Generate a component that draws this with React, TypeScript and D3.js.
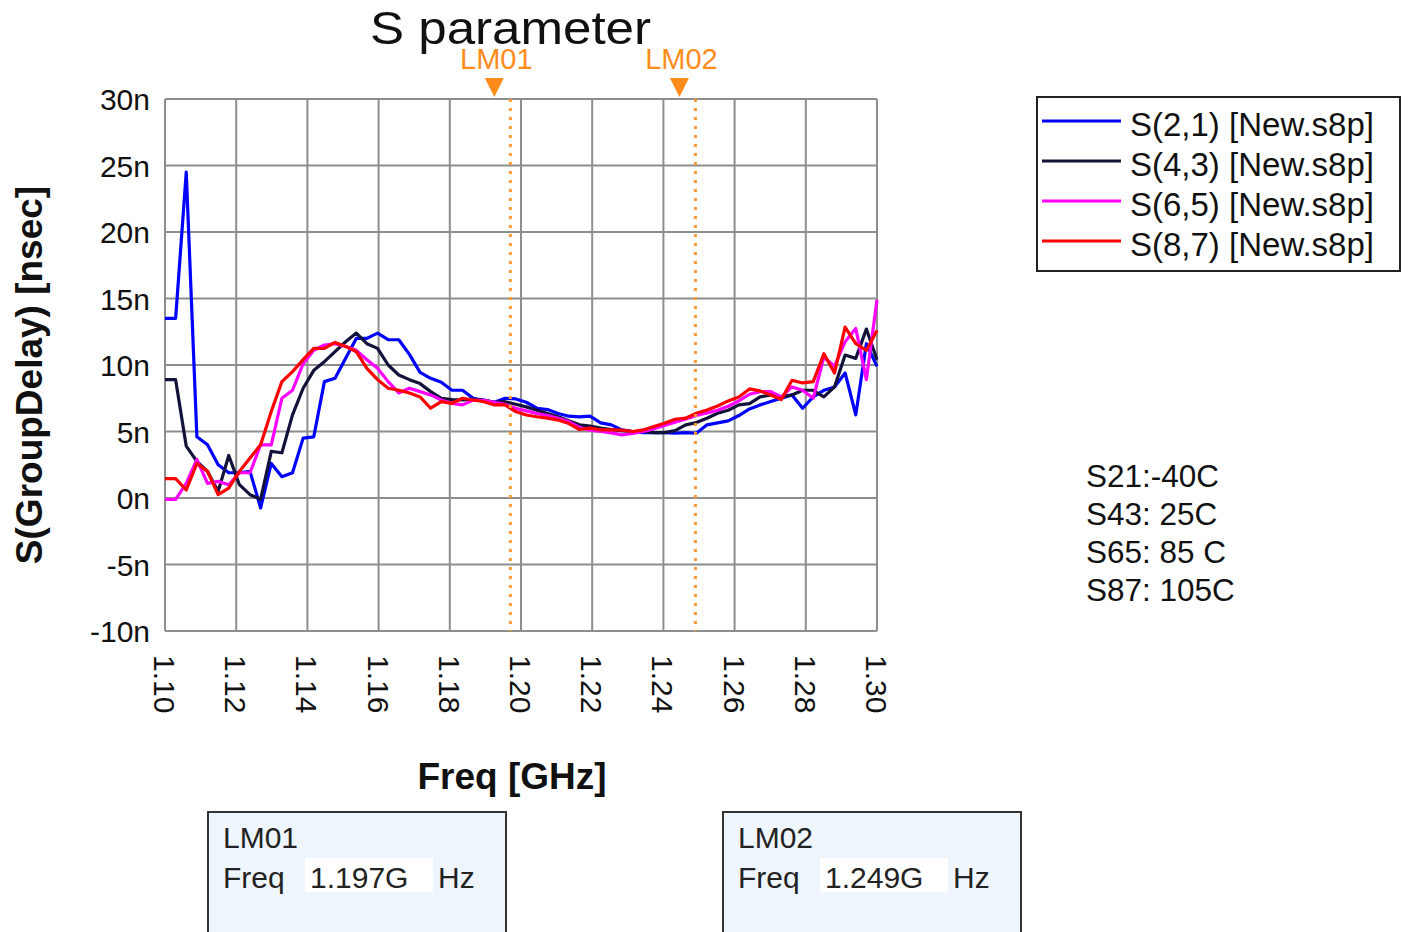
import React from 'react'
import * as d3 from 'd3'

// sweep settings of the measurement (GHz)
const sweepStart = 1.1
const sweepStop = 1.3
const sweepPoints = 68
const freqs = d3.range(sweepPoints).map(i => sweepStart + (i * (sweepStop - sweepStart)) / (sweepPoints - 1))

// group delay in nsec
const s21 = [
  13.5, 13.5, 24.5, 4.6, 4.0, 2.5, 1.9, 1.9, 2.0, -0.75, 2.6, 1.6, 1.9, 4.5, 4.6, 8.75, 9.0,
  10.5, 12.0, 12.0, 12.4, 11.9, 11.9, 10.8, 9.45, 9.0, 8.7, 8.1, 8.1, 7.5, 7.35, 7.2, 7.5,
  7.45, 7.2, 6.75, 6.65, 6.35, 6.15, 6.1, 6.15, 5.65, 5.5, 5.12, 5.0, 4.92, 4.92, 4.92, 4.87,
  4.92, 4.87, 5.5, 5.65, 5.8, 6.2, 6.7, 7.0, 7.25, 7.5, 7.75, 6.75, 7.6, 8.1, 8.35, 9.4, 6.25,
  11.6, 9.9,
]
const s43 = [
  8.9, 8.9, 3.9, 2.75, 2.0, 0.5, 3.2, 1.0, 0.25, -0.1, 3.5, 3.4, 6.25, 8.25, 9.6, 10.25, 11.0,
  11.75, 12.4, 11.6, 11.25, 10.0, 9.25, 8.9, 8.6, 8.0, 7.5, 7.4, 7.37, 7.44, 7.37, 7.2, 7.24,
  7.05, 6.85, 6.6, 6.35, 6.1, 5.8, 5.5, 5.4, 5.25, 5.15, 5.07, 5.0, 5.0, 4.92, 4.92, 5.07, 5.5,
  5.67, 6.0, 6.37, 6.6, 7.0, 7.1, 7.6, 7.75, 7.6, 7.75, 8.1, 8.1, 7.6, 8.35, 10.75, 10.5, 12.7,
  10.4,
]
const s65 = [
  -0.1, -0.1, 1.1, 2.9, 1.1, 1.25, 1.0, 1.9, 1.9, 4.0, 4.0, 7.5, 8.1, 10.1, 11.1, 11.5, 11.6,
  11.4, 11.1, 10.4, 9.75, 8.75, 7.9, 8.25, 8.0, 7.75, 7.37, 7.12, 7.0, 7.37, 7.35, 7.2, 7.05,
  6.75, 6.55, 6.35, 6.2, 6.0, 5.75, 5.3, 5.1, 5.0, 4.9, 4.75, 4.85, 5.0, 5.2, 5.45, 5.7, 5.95,
  6.2, 6.4, 6.6, 6.9, 7.3, 7.8, 8.0, 8.0, 7.6, 8.35, 8.1, 7.5, 10.6, 9.9, 11.75, 12.75, 8.9,
  14.9,
]
const s87 = [
  1.45, 1.45, 0.6, 2.6, 2.0, 0.25, 0.75, 2.0, 3.0, 4.0, 6.5, 8.75, 9.5, 10.4, 11.25, 11.25, 11.7,
  11.4, 11.0, 9.75, 8.9, 8.25, 8.1, 7.9, 7.6, 6.75, 7.25, 7.12, 7.5, 7.37, 7.24, 7.0, 7.0, 6.5,
  6.24, 6.11, 6.0, 5.86, 5.6, 5.15, 5.25, 5.12, 5.12, 5.1, 5.0, 5.12, 5.37, 5.62, 5.92, 6.0,
  6.37, 6.62, 6.92, 7.3, 7.6, 8.2, 8.05, 7.75, 7.4, 8.85, 8.65, 8.75, 10.85, 9.4, 12.85, 11.6,
  11.1, 12.6,
]

const seriesNames = ['S(2,1) [New.s8p]', 'S(4,3) [New.s8p]', 'S(6,5) [New.s8p]', 'S(8,7) [New.s8p]']
const seriesValues = [s21, s43, s65, s87]
const seriesColors = ['#0000ff', '#12123a', '#ff00ff', '#ff0000']

const yTicks = [-10, -5, 0, 5, 10, 15, 20, 25, 30]
const xTicks = [1.1, 1.12, 1.14, 1.16, 1.18, 1.2, 1.22, 1.24, 1.26, 1.28, 1.3]

const markerNames = ['LM01', 'LM02']
const markerFreqs = [1.197, 1.249]
const markerLabels = ['1.197G', '1.249G']

const notes = ['S21:-40C', 'S43: 25C', 'S65: 85 C', 'S87: 105C']

const font = "'Liberation Sans', Arial, sans-serif"
const plot = { left: 165, right: 877, top: 99, bottom: 631 }

const xScale = d3.scaleLinear().domain([sweepStart, sweepStop]).range([plot.left, plot.right])
const yScale = d3.scaleLinear().domain([-10, 30]).range([plot.bottom, plot.top])
const fmtX = d3.format('.2f')

function Grid() {
  return (
    <g stroke="#8e8e8e" strokeWidth={2}>
      {xTicks.map(t => (
        <line key={'x' + t} x1={xScale(t)} x2={xScale(t)} y1={plot.top} y2={plot.bottom} />
      ))}
      {yTicks.map(t => (
        <line key={'y' + t} x1={plot.left} x2={plot.right} y1={yScale(t)} y2={yScale(t)} />
      ))}
    </g>
  )
}

function Axes() {
  return (
    <g fontFamily={font} fill="#111">
      {yTicks.map(t => (
        <text key={t} x={150} y={yScale(t) + 11} fontSize={30} textAnchor="end">
          {t + 'n'}
        </text>
      ))}
      {xTicks.map(t => (
        <text key={t} transform={`translate(${xScale(t) - 11},655) rotate(90)`} fontSize={30}>
          {fmtX(t)}
        </text>
      ))}
      <text x={512} y={789} fontSize={37} fontWeight="bold" textAnchor="middle">
        Freq [GHz]
      </text>
      <text transform="translate(42,375) rotate(-90)" fontSize={37} fontWeight="bold" textAnchor="middle">
        S(GroupDelay) [nsec]
      </text>
    </g>
  )
}

function Traces() {
  const line = d3
    .line<number>()
    .x((d, i) => xScale(freqs[i]))
    .y(d => yScale(d))
  return (
    <g fill="none" strokeWidth={3.2} strokeLinejoin="round">
      {seriesValues.map((vals, i) => (
        <path key={i} d={line(vals) || ''} stroke={seriesColors[i]} />
      ))}
    </g>
  )
}

function Markers() {
  return (
    <g fontFamily={font}>
      {markerFreqs.map((f, i) => {
        const x = xScale(f)
        const tx = x - 16
        return (
          <g key={i}>
            <line x1={x} x2={x} y1={plot.top} y2={plot.bottom} stroke="#ff9a33" strokeWidth={3} strokeDasharray="3 6" />
            <path d={`M${tx - 9.5},78 L${tx + 9.5},78 L${tx},97 Z`} fill="#ff8c1a" />
            <text x={tx + 2} y={69} fontSize={29} fill="#ff8c1a" textAnchor="middle">
              {markerNames[i]}
            </text>
          </g>
        )
      })}
    </g>
  )
}

function Legend() {
  return (
    <g fontFamily={font}>
      <rect x={1037} y={97} width={363} height={174} fill="#fff" stroke="#222" strokeWidth={2} />
      {seriesNames.map((name, i) => {
        const y = 121 + i * 40
        return (
          <g key={name}>
            <line x1={1042} x2={1121} y1={y} y2={y} stroke={seriesColors[i]} strokeWidth={3} />
            <text x={1130} y={y + 15} fontSize={33} fill="#111">
              {name}
            </text>
          </g>
        )
      })}
    </g>
  )
}

function MarkerBoxes() {
  const boxX = [208, 723]
  return (
    <g fontFamily={font} fontSize={30} fill="#222">
      {markerNames.map((name, i) => {
        const x0 = boxX[i]
        return (
          <g key={name}>
            <rect x={x0} y={812} width={298} height={130} fill="#eef5fd" stroke="#333" strokeWidth={2} />
            <text x={x0 + 15} y={848}>
              {name}
            </text>
            <text x={x0 + 15} y={888}>
              Freq
            </text>
            <rect x={x0 + 97} y={858} width={128} height={34} fill="#fff" />
            <text x={x0 + 102} y={888}>
              {markerLabels[i]}
            </text>
            <text x={x0 + 230} y={888}>
              Hz
            </text>
          </g>
        )
      })}
    </g>
  )
}

function Notes() {
  return (
    <g fontFamily={font} fontSize={31.5} fill="#111">
      {notes.map((n, i) => (
        <text key={n} x={1086} y={487 + i * 38}>
          {n}
        </text>
      ))}
    </g>
  )
}

export default function App() {
  return (
    <svg
      width={1413}
      height={932}
      style={{ position: 'absolute', left: 0, top: 0, display: 'block', background: '#fff' }}
    >
      <text x={370} y={44} fontFamily={font} fontSize={47} fill="#111" textLength={281} lengthAdjust="spacingAndGlyphs">
        S parameter
      </text>
      <Grid />
      <Traces />
      <Markers />
      <Axes />
      <Legend />
      <Notes />
      <MarkerBoxes />
    </svg>
  )
}
